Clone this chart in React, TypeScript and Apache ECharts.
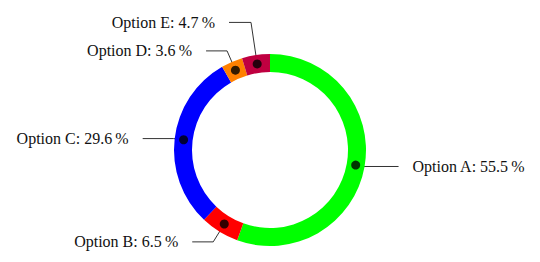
import React, { useEffect, useRef } from "react";
import * as echarts from "echarts";

const categories = ["Option A", "Option B", "Option C", "Option D", "Option E"];
const values = [55.5, 6.5, 29.6, 3.6, 4.7];
const colors = ["#00ff00", "#ff0000", "#0000ff", "#ff8000", "#bf0040"];
const lineLen1 = [8, 21, 10, 21, 42];
const lineLen2 = [35, 21, 31, 21, 22];

export default function App() {
  const ref = useRef<HTMLDivElement>(null);
  useEffect(() => {
    document.body.style.margin = "0";
    const chart = echarts.init(ref.current!, null, { renderer: "svg" });
    const total = values.reduce((a, b) => a + b, 0);
    let cum = 0;
    const mids = values.map((v) => {
      const m = cum + v / 2;
      cum += v;
      return (m / total) * 100;
    });
    const center = [270, 150];
    chart.setOption({
      animation: false,
      polar: { center, radius: 96 },
      angleAxis: { type: "value", min: 0, max: 100, startAngle: 90, clockwise: true, show: false },
      radiusAxis: { type: "value", min: 0, max: 96, show: false },
      series: [
        {
          type: "pie",
          center,
          radius: [78, 96],
          startAngle: 90,
          clockwise: true,
          silent: true,
          label: { show: false },
          labelLine: { show: false },
          itemStyle: { borderWidth: 0 },
          data: categories.map((c, i) => ({ name: c, value: values[i], itemStyle: { color: colors[i] } })),
        },
        {
          type: "pie",
          center,
          radius: [86, 87],
          startAngle: 90,
          clockwise: true,
          silent: true,
          avoidLabelOverlap: false,
          itemStyle: { color: "rgba(0,0,0,0)", borderWidth: 0 },
          label: {
            show: true,
            position: "outside",
            fontFamily: "Liberation Serif",
            fontSize: 16,
            color: "#111",
            distanceToLabelLine: 14,
            formatter: (p: any) => `${p.name}: ${values[p.dataIndex].toFixed(1)}\u2009%`,
          },
          labelLine: { show: true, lineStyle: { color: "#333", width: 1 } },
          data: categories.map((c, i) => ({
            name: c,
            value: values[i],
            labelLine: { length: lineLen1[i], length2: lineLen2[i] },
          })),
        },
        {
          type: "scatter",
          coordinateSystem: "polar",
          symbolSize: 9,
          silent: true,
          itemStyle: { color: "#000" },
          data: mids.map((m) => [87, m]),
          z: 5,
        },
      ],
    });
    return () => chart.dispose();
  }, []);
  return <div ref={ref} style={{ width: 540, height: 262 }} />;
}
